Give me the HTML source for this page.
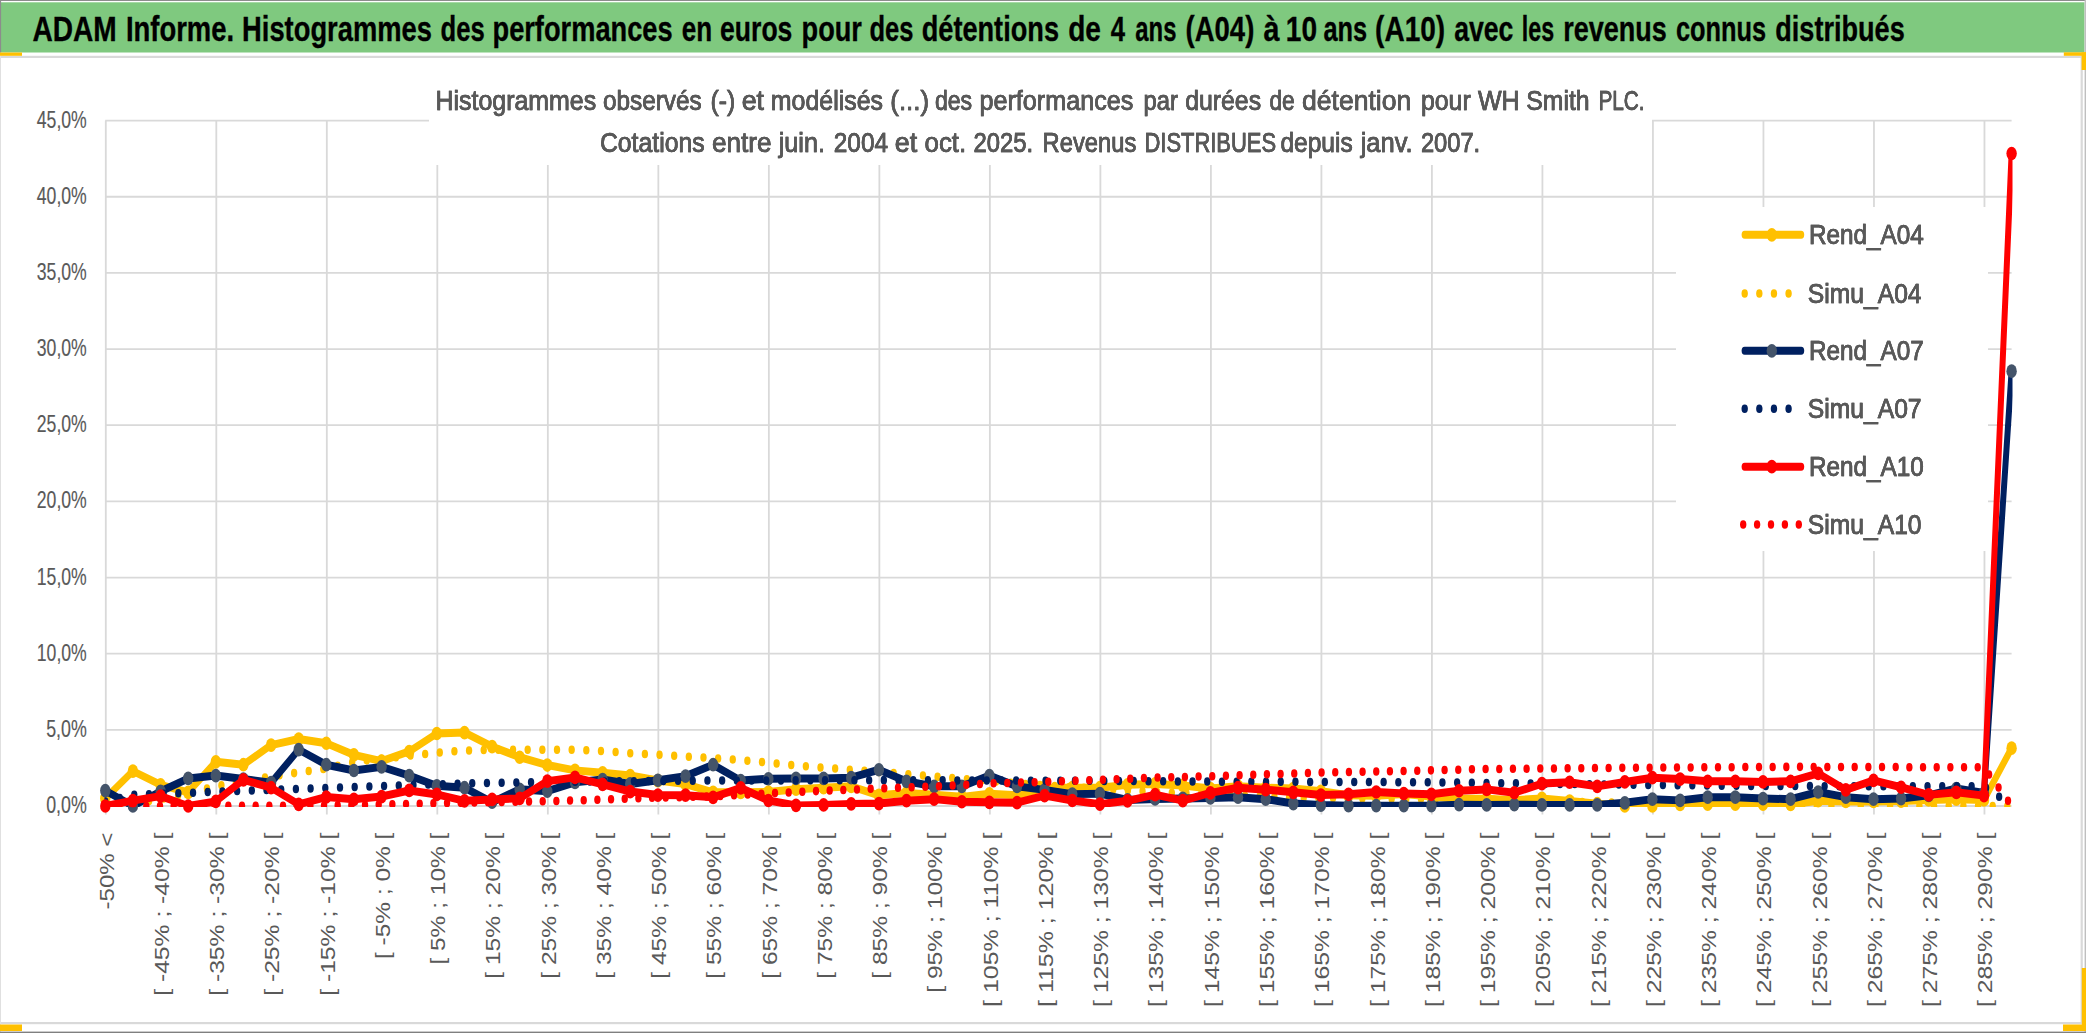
<!DOCTYPE html><html lang="fr"><head><meta charset="utf-8"><title>ADAM Informe</title>
<style>html,body{margin:0;padding:0;background:#fff}body{width:2086px;height:1033px;overflow:hidden}svg{display:block}text{font-family:"Liberation Sans",sans-serif}.g{fill:#595959;stroke:#595959;stroke-width:.6;filter:drop-shadow(.8px 0 0 #595959)}.x{fill:#595959;stroke:#595959;stroke-width:0}.y{fill:#595959;stroke:#595959;stroke-width:.15}</style></head><body>
<svg width="2086" height="1033" viewBox="0 0 2086 1033">
<rect x="0" y="0" width="2086" height="1033" fill="#ffffff"/>
<rect x="0" y="0" width="2086" height="1" fill="#8c8c8c"/>
<rect x="0" y="2.3" width="2084.5" height="50.2" fill="#7fc97f"/>
<rect x="2084.6" y="0" width="1.4" height="1033" fill="#bfbfbf"/>
<rect x="0" y="56" width="1" height="977" fill="#e0e0e0"/>
<rect x="0" y="0" width="1.1" height="52.5" fill="#8c8c8c"/>
<rect x="1" y="55.8" width="2080" height="2.2" fill="#d9d9d9"/>
<rect x="1" y="1022" width="2081" height="2.2" fill="#d9d9d9"/>
<rect x="2080.6" y="55.8" width="2.2" height="968" fill="#d9d9d9"/>
<rect x="0" y="52.5" width="22" height="3.3" fill="#ffc000"/>
<rect x="2063.8" y="52.3" width="22.2" height="3.5" fill="#ffc000"/>
<rect x="2081.6" y="52.3" width="4.4" height="17.7" fill="#ffc000"/>
<rect x="0" y="1024.5" width="22" height="6.5" fill="#ffc000"/>
<rect x="2063" y="1024.5" width="23" height="6.5" fill="#ffc000"/>
<rect x="2081.8" y="968" width="4.2" height="63" fill="#ffc000"/>
<rect x="0" y="1031.6" width="2086" height="1.4" fill="#7f7f7f"/>
<text y="40.7" font-size="34.6" font-weight="bold" fill="#000" stroke="#000" stroke-width=".35"><tspan x="32.4" textLength="84.3" lengthAdjust="spacingAndGlyphs">ADAM</tspan> <tspan x="125.9" textLength="108.2" lengthAdjust="spacingAndGlyphs">Informe.</tspan> <tspan x="242.1" textLength="189.8" lengthAdjust="spacingAndGlyphs">Histogrammes</tspan> <tspan x="440.6" textLength="44.2" lengthAdjust="spacingAndGlyphs">des</tspan> <tspan x="492.5" textLength="180.1" lengthAdjust="spacingAndGlyphs">performances</tspan> <tspan x="681.7" textLength="30.4" lengthAdjust="spacingAndGlyphs">en</tspan> <tspan x="720.1" textLength="72.3" lengthAdjust="spacingAndGlyphs">euros</tspan> <tspan x="801.6" textLength="60.3" lengthAdjust="spacingAndGlyphs">pour</tspan> <tspan x="869.4" textLength="44.0" lengthAdjust="spacingAndGlyphs">des</tspan> <tspan x="921.7" textLength="137.3" lengthAdjust="spacingAndGlyphs">détentions</tspan> <tspan x="1068.2" textLength="32.7" lengthAdjust="spacingAndGlyphs">de</tspan> <tspan x="1110.8" textLength="14.3" lengthAdjust="spacingAndGlyphs">4</tspan> <tspan x="1135.3" textLength="41.1" lengthAdjust="spacingAndGlyphs">ans</tspan> <tspan x="1185.6" textLength="68.7" lengthAdjust="spacingAndGlyphs">(A04)</tspan> <tspan x="1263.5" textLength="16.0" lengthAdjust="spacingAndGlyphs">à</tspan> <tspan x="1285.8" textLength="31.3" lengthAdjust="spacingAndGlyphs">10</tspan> <tspan x="1323.4" textLength="43.7" lengthAdjust="spacingAndGlyphs">ans</tspan> <tspan x="1375.1" textLength="70.0" lengthAdjust="spacingAndGlyphs">(A10)</tspan> <tspan x="1454.2" textLength="59.2" lengthAdjust="spacingAndGlyphs">avec</tspan> <tspan x="1521.8" textLength="32.3" lengthAdjust="spacingAndGlyphs">les</tspan> <tspan x="1563.3" textLength="103.5" lengthAdjust="spacingAndGlyphs">revenus</tspan> <tspan x="1676.0" textLength="90.2" lengthAdjust="spacingAndGlyphs">connus</tspan> <tspan x="1775.3" textLength="129.4" lengthAdjust="spacingAndGlyphs">distribués</tspan></text>
<path d="M105.3,806.00 H2011.6 M105.3,729.84 H2011.6 M105.3,653.69 H2011.6 M105.3,577.53 H2011.6 M105.3,501.38 H2011.6 M105.3,425.22 H2011.6 M105.3,349.07 H2011.6 M105.3,272.91 H2011.6 M105.3,196.76 H2011.6 M105.3,120.60 H2011.6 M105.80,120.6 V814.4 M216.31,120.6 V814.4 M326.82,120.6 V814.4 M437.33,120.6 V814.4 M547.84,120.6 V814.4 M658.35,120.6 V814.4 M768.86,120.6 V814.4 M879.37,120.6 V814.4 M989.88,120.6 V814.4 M1100.39,120.6 V814.4 M1210.90,120.6 V814.4 M1321.41,120.6 V814.4 M1431.92,120.6 V814.4 M1542.43,120.6 V814.4 M1652.94,120.6 V814.4 M1763.45,120.6 V814.4 M1873.96,120.6 V814.4 M1984.47,120.6 V814.4" stroke="#d9d9d9" stroke-width="1.8" fill="none"/>
<rect x="429" y="85" width="1223" height="80" fill="#fff"/>
<rect x="1676" y="207" width="312" height="344" fill="#fff"/>
<text class="y" x="86.8" y="813.0" font-size="24.3" text-anchor="end" textLength="40.6" lengthAdjust="spacingAndGlyphs">0,0%</text>
<text class="y" x="86.8" y="736.8" font-size="24.3" text-anchor="end" textLength="40.6" lengthAdjust="spacingAndGlyphs">5,0%</text>
<text class="y" x="86.8" y="660.7" font-size="24.3" text-anchor="end" textLength="50.0" lengthAdjust="spacingAndGlyphs">10,0%</text>
<text class="y" x="86.8" y="584.5" font-size="24.3" text-anchor="end" textLength="50.0" lengthAdjust="spacingAndGlyphs">15,0%</text>
<text class="y" x="86.8" y="508.4" font-size="24.3" text-anchor="end" textLength="50.0" lengthAdjust="spacingAndGlyphs">20,0%</text>
<text class="y" x="86.8" y="432.2" font-size="24.3" text-anchor="end" textLength="50.0" lengthAdjust="spacingAndGlyphs">25,0%</text>
<text class="y" x="86.8" y="356.1" font-size="24.3" text-anchor="end" textLength="50.0" lengthAdjust="spacingAndGlyphs">30,0%</text>
<text class="y" x="86.8" y="279.9" font-size="24.3" text-anchor="end" textLength="50.0" lengthAdjust="spacingAndGlyphs">35,0%</text>
<text class="y" x="86.8" y="203.8" font-size="24.3" text-anchor="end" textLength="50.0" lengthAdjust="spacingAndGlyphs">40,0%</text>
<text class="y" x="86.8" y="127.6" font-size="24.3" text-anchor="end" textLength="50.0" lengthAdjust="spacingAndGlyphs">45,0%</text>
<text class="g" y="110.3" font-size="28.3"><tspan x="435.5" textLength="160.7" lengthAdjust="spacingAndGlyphs">Histogrammes</tspan> <tspan x="602.9" textLength="98.8" lengthAdjust="spacingAndGlyphs">observés</tspan> <tspan x="710.5" textLength="24.7" lengthAdjust="spacingAndGlyphs">(-)</tspan> <tspan x="741.7" textLength="22.4" lengthAdjust="spacingAndGlyphs">et</tspan> <tspan x="770.8" textLength="112.2" lengthAdjust="spacingAndGlyphs">modélisés</tspan> <tspan x="890.3" textLength="38.7" lengthAdjust="spacingAndGlyphs">(...)</tspan> <tspan x="934.9" textLength="37.2" lengthAdjust="spacingAndGlyphs">des</tspan> <tspan x="979.5" textLength="153.8" lengthAdjust="spacingAndGlyphs">performances</tspan> <tspan x="1143.6" textLength="34.3" lengthAdjust="spacingAndGlyphs">par</tspan> <tspan x="1185.2" textLength="75.9" lengthAdjust="spacingAndGlyphs">durées</tspan> <tspan x="1269.4" textLength="25.3" lengthAdjust="spacingAndGlyphs">de</tspan> <tspan x="1302.0" textLength="109.2" lengthAdjust="spacingAndGlyphs">détention</tspan> <tspan x="1420.9" textLength="49.8" lengthAdjust="spacingAndGlyphs">pour</tspan> <tspan x="1478.0" textLength="41.7" lengthAdjust="spacingAndGlyphs">WH</tspan> <tspan x="1526.2" textLength="63.4" lengthAdjust="spacingAndGlyphs">Smith</tspan> <tspan x="1598.4" textLength="46.2" lengthAdjust="spacingAndGlyphs">PLC.</tspan></text>
<text class="g" y="151.5" font-size="28.3"><tspan x="599.9" textLength="104.7" lengthAdjust="spacingAndGlyphs">Cotations</tspan> <tspan x="712.0" textLength="59.5" lengthAdjust="spacingAndGlyphs">entre</tspan> <tspan x="778.7" textLength="46.3" lengthAdjust="spacingAndGlyphs">juin.</tspan> <tspan x="833.8" textLength="54.2" lengthAdjust="spacingAndGlyphs">2004</tspan> <tspan x="894.8" textLength="22.4" lengthAdjust="spacingAndGlyphs">et</tspan> <tspan x="924.5" textLength="41.7" lengthAdjust="spacingAndGlyphs">oct.</tspan> <tspan x="973.5" textLength="59.6" lengthAdjust="spacingAndGlyphs">2025.</tspan> <tspan x="1042.6" textLength="93.7" lengthAdjust="spacingAndGlyphs">Revenus</tspan> <tspan x="1144.5" textLength="131.5" lengthAdjust="spacingAndGlyphs">DISTRIBUES</tspan> <tspan x="1280.4" textLength="72.3" lengthAdjust="spacingAndGlyphs">depuis</tspan> <tspan x="1360.7" textLength="52.0" lengthAdjust="spacingAndGlyphs">janv.</tspan> <tspan x="1420.9" textLength="59.3" lengthAdjust="spacingAndGlyphs">2007.</tspan></text>
<text class="x" transform="translate(113.6,832.6) rotate(-90)" font-size="20.3" text-anchor="end" textLength="76.9" lengthAdjust="spacingAndGlyphs">-50% <</text>
<text class="x" transform="translate(168.9,832.6) rotate(-90)" font-size="20.3" text-anchor="end" textLength="163.2" lengthAdjust="spacingAndGlyphs">[ -45% ; -40% [</text>
<text class="x" transform="translate(224.1,832.6) rotate(-90)" font-size="20.3" text-anchor="end" textLength="163.2" lengthAdjust="spacingAndGlyphs">[ -35% ; -30% [</text>
<text class="x" transform="translate(279.4,832.6) rotate(-90)" font-size="20.3" text-anchor="end" textLength="163.2" lengthAdjust="spacingAndGlyphs">[ -25% ; -20% [</text>
<text class="x" transform="translate(334.6,832.6) rotate(-90)" font-size="20.3" text-anchor="end" textLength="163.2" lengthAdjust="spacingAndGlyphs">[ -15% ; -10% [</text>
<text class="x" transform="translate(389.9,832.6) rotate(-90)" font-size="20.3" text-anchor="end" textLength="126.4" lengthAdjust="spacingAndGlyphs">[ -5% ; 0% [</text>
<text class="x" transform="translate(445.1,832.6) rotate(-90)" font-size="20.3" text-anchor="end" textLength="132.0" lengthAdjust="spacingAndGlyphs">[ 5% ; 10% [</text>
<text class="x" transform="translate(500.4,832.6) rotate(-90)" font-size="20.3" text-anchor="end" textLength="146.1" lengthAdjust="spacingAndGlyphs">[ 15% ; 20% [</text>
<text class="x" transform="translate(555.6,832.6) rotate(-90)" font-size="20.3" text-anchor="end" textLength="146.1" lengthAdjust="spacingAndGlyphs">[ 25% ; 30% [</text>
<text class="x" transform="translate(610.9,832.6) rotate(-90)" font-size="20.3" text-anchor="end" textLength="146.1" lengthAdjust="spacingAndGlyphs">[ 35% ; 40% [</text>
<text class="x" transform="translate(666.2,832.6) rotate(-90)" font-size="20.3" text-anchor="end" textLength="146.1" lengthAdjust="spacingAndGlyphs">[ 45% ; 50% [</text>
<text class="x" transform="translate(721.4,832.6) rotate(-90)" font-size="20.3" text-anchor="end" textLength="146.1" lengthAdjust="spacingAndGlyphs">[ 55% ; 60% [</text>
<text class="x" transform="translate(776.7,832.6) rotate(-90)" font-size="20.3" text-anchor="end" textLength="146.1" lengthAdjust="spacingAndGlyphs">[ 65% ; 70% [</text>
<text class="x" transform="translate(831.9,832.6) rotate(-90)" font-size="20.3" text-anchor="end" textLength="146.1" lengthAdjust="spacingAndGlyphs">[ 75% ; 80% [</text>
<text class="x" transform="translate(887.2,832.6) rotate(-90)" font-size="20.3" text-anchor="end" textLength="146.1" lengthAdjust="spacingAndGlyphs">[ 85% ; 90% [</text>
<text class="x" transform="translate(942.4,832.6) rotate(-90)" font-size="20.3" text-anchor="end" textLength="160.2" lengthAdjust="spacingAndGlyphs">[ 95% ; 100% [</text>
<text class="x" transform="translate(997.7,832.6) rotate(-90)" font-size="20.3" text-anchor="end" textLength="174.4" lengthAdjust="spacingAndGlyphs">[ 105% ; 110% [</text>
<text class="x" transform="translate(1052.9,832.6) rotate(-90)" font-size="20.3" text-anchor="end" textLength="174.4" lengthAdjust="spacingAndGlyphs">[ 115% ; 120% [</text>
<text class="x" transform="translate(1108.2,832.6) rotate(-90)" font-size="20.3" text-anchor="end" textLength="174.4" lengthAdjust="spacingAndGlyphs">[ 125% ; 130% [</text>
<text class="x" transform="translate(1163.4,832.6) rotate(-90)" font-size="20.3" text-anchor="end" textLength="174.4" lengthAdjust="spacingAndGlyphs">[ 135% ; 140% [</text>
<text class="x" transform="translate(1218.7,832.6) rotate(-90)" font-size="20.3" text-anchor="end" textLength="174.4" lengthAdjust="spacingAndGlyphs">[ 145% ; 150% [</text>
<text class="x" transform="translate(1274.0,832.6) rotate(-90)" font-size="20.3" text-anchor="end" textLength="174.4" lengthAdjust="spacingAndGlyphs">[ 155% ; 160% [</text>
<text class="x" transform="translate(1329.2,832.6) rotate(-90)" font-size="20.3" text-anchor="end" textLength="174.4" lengthAdjust="spacingAndGlyphs">[ 165% ; 170% [</text>
<text class="x" transform="translate(1384.5,832.6) rotate(-90)" font-size="20.3" text-anchor="end" textLength="174.4" lengthAdjust="spacingAndGlyphs">[ 175% ; 180% [</text>
<text class="x" transform="translate(1439.7,832.6) rotate(-90)" font-size="20.3" text-anchor="end" textLength="174.4" lengthAdjust="spacingAndGlyphs">[ 185% ; 190% [</text>
<text class="x" transform="translate(1495.0,832.6) rotate(-90)" font-size="20.3" text-anchor="end" textLength="174.4" lengthAdjust="spacingAndGlyphs">[ 195% ; 200% [</text>
<text class="x" transform="translate(1550.2,832.6) rotate(-90)" font-size="20.3" text-anchor="end" textLength="174.4" lengthAdjust="spacingAndGlyphs">[ 205% ; 210% [</text>
<text class="x" transform="translate(1605.5,832.6) rotate(-90)" font-size="20.3" text-anchor="end" textLength="174.4" lengthAdjust="spacingAndGlyphs">[ 215% ; 220% [</text>
<text class="x" transform="translate(1660.7,832.6) rotate(-90)" font-size="20.3" text-anchor="end" textLength="174.4" lengthAdjust="spacingAndGlyphs">[ 225% ; 230% [</text>
<text class="x" transform="translate(1716.0,832.6) rotate(-90)" font-size="20.3" text-anchor="end" textLength="174.4" lengthAdjust="spacingAndGlyphs">[ 235% ; 240% [</text>
<text class="x" transform="translate(1771.3,832.6) rotate(-90)" font-size="20.3" text-anchor="end" textLength="174.4" lengthAdjust="spacingAndGlyphs">[ 245% ; 250% [</text>
<text class="x" transform="translate(1826.5,832.6) rotate(-90)" font-size="20.3" text-anchor="end" textLength="174.4" lengthAdjust="spacingAndGlyphs">[ 255% ; 260% [</text>
<text class="x" transform="translate(1881.8,832.6) rotate(-90)" font-size="20.3" text-anchor="end" textLength="174.4" lengthAdjust="spacingAndGlyphs">[ 265% ; 270% [</text>
<text class="x" transform="translate(1937.0,832.6) rotate(-90)" font-size="20.3" text-anchor="end" textLength="174.4" lengthAdjust="spacingAndGlyphs">[ 275% ; 280% [</text>
<text class="x" transform="translate(1992.3,832.6) rotate(-90)" font-size="20.3" text-anchor="end" textLength="174.4" lengthAdjust="spacingAndGlyphs">[ 285% ; 290% [</text>
<clipPath id="pc"><rect x="104.4" y="90.00" width="1908.1" height="516.69"/></clipPath>
<g transform="scale(1,1.330)" fill="none" stroke-linejoin="round" stroke-linecap="round">
<path clip-path="url(#pc)" d="M105.3,600.29 L132.9,579.79 L160.6,590.10 L188.2,595.71 L215.8,572.80 L243.4,574.98 L271.1,560.21 L298.7,555.63 L326.3,558.83 L353.9,567.54 L381.6,572.23 L409.2,565.02 L436.8,551.50 L464.5,550.82 L492.1,561.35 L519.7,569.37 L547.3,575.21 L575.0,579.22 L602.6,581.05 L630.2,583.11 L657.9,586.89 L685.5,589.52 L713.1,595.71 L740.7,595.71 L768.4,595.48 L796.0,593.42 L823.6,592.27 L851.2,591.24 L878.9,598.00 L906.5,596.17 L934.1,597.54 L961.8,599.14 L989.4,596.85 L1017.0,598.00 L1044.6,592.27 L1072.3,592.27 L1099.9,592.27 L1127.5,590.10 L1155.1,589.41 L1182.8,590.55 L1210.4,592.85 L1238.0,591.13 L1265.7,592.27 L1293.3,592.85 L1320.9,594.91 L1348.5,598.00 L1376.2,598.23 L1403.8,597.08 L1431.4,598.91 L1459.0,600.52 L1486.7,600.52 L1514.3,601.66 L1541.9,600.29 L1569.6,602.24 L1597.2,604.30 L1624.8,606.02 L1652.4,606.02 L1680.1,604.87 L1707.7,604.64 L1735.3,604.64 L1763.0,604.64 L1790.6,604.87 L1818.2,602.01 L1845.8,602.58 L1873.5,602.58 L1901.1,602.35 L1928.7,601.43 L1956.3,600.86 L1984.0,601.43 L2011.6,562.50" stroke="#ffc000" stroke-width="6.0"/>
<ellipse cx="105.3" cy="600.29" rx="5.20" ry="5.15" fill="#ffc000"/><ellipse cx="132.9" cy="579.79" rx="5.20" ry="5.15" fill="#ffc000"/><ellipse cx="160.6" cy="590.10" rx="5.20" ry="5.15" fill="#ffc000"/><ellipse cx="188.2" cy="595.71" rx="5.20" ry="5.15" fill="#ffc000"/><ellipse cx="215.8" cy="572.80" rx="5.20" ry="5.15" fill="#ffc000"/><ellipse cx="243.4" cy="574.98" rx="5.20" ry="5.15" fill="#ffc000"/><ellipse cx="271.1" cy="560.21" rx="5.20" ry="5.15" fill="#ffc000"/><ellipse cx="298.7" cy="555.63" rx="5.20" ry="5.15" fill="#ffc000"/><ellipse cx="326.3" cy="558.83" rx="5.20" ry="5.15" fill="#ffc000"/><ellipse cx="353.9" cy="567.54" rx="5.20" ry="5.15" fill="#ffc000"/><ellipse cx="381.6" cy="572.23" rx="5.20" ry="5.15" fill="#ffc000"/><ellipse cx="409.2" cy="565.02" rx="5.20" ry="5.15" fill="#ffc000"/><ellipse cx="436.8" cy="551.50" rx="5.20" ry="5.15" fill="#ffc000"/><ellipse cx="464.5" cy="550.82" rx="5.20" ry="5.15" fill="#ffc000"/><ellipse cx="492.1" cy="561.35" rx="5.20" ry="5.15" fill="#ffc000"/><ellipse cx="519.7" cy="569.37" rx="5.20" ry="5.15" fill="#ffc000"/><ellipse cx="547.3" cy="575.21" rx="5.20" ry="5.15" fill="#ffc000"/><ellipse cx="575.0" cy="579.22" rx="5.20" ry="5.15" fill="#ffc000"/><ellipse cx="602.6" cy="581.05" rx="5.20" ry="5.15" fill="#ffc000"/><ellipse cx="630.2" cy="583.11" rx="5.20" ry="5.15" fill="#ffc000"/><ellipse cx="657.9" cy="586.89" rx="5.20" ry="5.15" fill="#ffc000"/><ellipse cx="685.5" cy="589.52" rx="5.20" ry="5.15" fill="#ffc000"/><ellipse cx="713.1" cy="595.71" rx="5.20" ry="5.15" fill="#ffc000"/><ellipse cx="740.7" cy="595.71" rx="5.20" ry="5.15" fill="#ffc000"/><ellipse cx="768.4" cy="595.48" rx="5.20" ry="5.15" fill="#ffc000"/><ellipse cx="796.0" cy="593.42" rx="5.20" ry="5.15" fill="#ffc000"/><ellipse cx="823.6" cy="592.27" rx="5.20" ry="5.15" fill="#ffc000"/><ellipse cx="851.2" cy="591.24" rx="5.20" ry="5.15" fill="#ffc000"/><ellipse cx="878.9" cy="598.00" rx="5.20" ry="5.15" fill="#ffc000"/><ellipse cx="906.5" cy="596.17" rx="5.20" ry="5.15" fill="#ffc000"/><ellipse cx="934.1" cy="597.54" rx="5.20" ry="5.15" fill="#ffc000"/><ellipse cx="961.8" cy="599.14" rx="5.20" ry="5.15" fill="#ffc000"/><ellipse cx="989.4" cy="596.85" rx="5.20" ry="5.15" fill="#ffc000"/><ellipse cx="1017.0" cy="598.00" rx="5.20" ry="5.15" fill="#ffc000"/><ellipse cx="1044.6" cy="592.27" rx="5.20" ry="5.15" fill="#ffc000"/><ellipse cx="1072.3" cy="592.27" rx="5.20" ry="5.15" fill="#ffc000"/><ellipse cx="1099.9" cy="592.27" rx="5.20" ry="5.15" fill="#ffc000"/><ellipse cx="1127.5" cy="590.10" rx="5.20" ry="5.15" fill="#ffc000"/><ellipse cx="1155.1" cy="589.41" rx="5.20" ry="5.15" fill="#ffc000"/><ellipse cx="1182.8" cy="590.55" rx="5.20" ry="5.15" fill="#ffc000"/><ellipse cx="1210.4" cy="592.85" rx="5.20" ry="5.15" fill="#ffc000"/><ellipse cx="1238.0" cy="591.13" rx="5.20" ry="5.15" fill="#ffc000"/><ellipse cx="1265.7" cy="592.27" rx="5.20" ry="5.15" fill="#ffc000"/><ellipse cx="1293.3" cy="592.85" rx="5.20" ry="5.15" fill="#ffc000"/><ellipse cx="1320.9" cy="594.91" rx="5.20" ry="5.15" fill="#ffc000"/><ellipse cx="1348.5" cy="598.00" rx="5.20" ry="5.15" fill="#ffc000"/><ellipse cx="1376.2" cy="598.23" rx="5.20" ry="5.15" fill="#ffc000"/><ellipse cx="1403.8" cy="597.08" rx="5.20" ry="5.15" fill="#ffc000"/><ellipse cx="1431.4" cy="598.91" rx="5.20" ry="5.15" fill="#ffc000"/><ellipse cx="1459.0" cy="600.52" rx="5.20" ry="5.15" fill="#ffc000"/><ellipse cx="1486.7" cy="600.52" rx="5.20" ry="5.15" fill="#ffc000"/><ellipse cx="1514.3" cy="601.66" rx="5.20" ry="5.15" fill="#ffc000"/><ellipse cx="1541.9" cy="600.29" rx="5.20" ry="5.15" fill="#ffc000"/><ellipse cx="1569.6" cy="602.24" rx="5.20" ry="5.15" fill="#ffc000"/><ellipse cx="1597.2" cy="604.30" rx="5.20" ry="5.15" fill="#ffc000"/><ellipse cx="1624.8" cy="606.02" rx="5.20" ry="5.15" fill="#ffc000"/><ellipse cx="1652.4" cy="606.02" rx="5.20" ry="5.15" fill="#ffc000"/><ellipse cx="1680.1" cy="604.87" rx="5.20" ry="5.15" fill="#ffc000"/><ellipse cx="1707.7" cy="604.64" rx="5.20" ry="5.15" fill="#ffc000"/><ellipse cx="1735.3" cy="604.64" rx="5.20" ry="5.15" fill="#ffc000"/><ellipse cx="1763.0" cy="604.64" rx="5.20" ry="5.15" fill="#ffc000"/><ellipse cx="1790.6" cy="604.87" rx="5.20" ry="5.15" fill="#ffc000"/><ellipse cx="1818.2" cy="602.01" rx="5.20" ry="5.15" fill="#ffc000"/><ellipse cx="1845.8" cy="602.58" rx="5.20" ry="5.15" fill="#ffc000"/><ellipse cx="1873.5" cy="602.58" rx="5.20" ry="5.15" fill="#ffc000"/><ellipse cx="1901.1" cy="602.35" rx="5.20" ry="5.15" fill="#ffc000"/><ellipse cx="1928.7" cy="601.43" rx="5.20" ry="5.15" fill="#ffc000"/><ellipse cx="1956.3" cy="600.86" rx="5.20" ry="5.15" fill="#ffc000"/><ellipse cx="1984.0" cy="601.43" rx="5.20" ry="5.15" fill="#ffc000"/><ellipse cx="2011.6" cy="562.50" rx="5.20" ry="5.15" fill="#ffc000"/>
<path clip-path="url(#pc)" d="M105.3,606.02 L132.9,604.30 L160.6,600.86 L188.2,596.62 L215.8,591.13 L243.4,587.69 L271.1,583.68 L298.7,580.82 L326.3,577.96 L353.9,572.80 L381.6,570.51 L409.2,568.22 L436.8,565.93 L464.5,564.33 L492.1,563.64 L519.7,563.64 L547.3,563.64 L575.0,563.64 L602.6,564.79 L630.2,566.28 L657.9,567.42 L685.5,568.76 L713.1,570.09 L740.7,571.43 L768.4,573.49 L796.0,575.55 L823.6,577.16 L851.2,578.76 L878.9,580.36 L906.5,581.97 L934.1,583.91 L961.8,585.57 L989.4,587.23 L1017.0,588.89 L1044.6,590.55 L1072.3,591.79 L1099.9,593.02 L1127.5,594.25 L1155.1,595.48 L1182.8,596.33 L1210.4,597.17 L1238.0,598.02 L1265.7,598.87 L1293.3,599.72 L1320.9,599.95 L1348.5,600.17 L1376.2,600.40 L1403.8,600.63 L1431.4,600.86 L1459.0,601.15 L1486.7,601.43 L1514.3,601.89 L1541.9,602.35 L1569.6,602.81 L1597.2,603.27 L1624.8,603.67 L1652.4,604.07 L1680.1,604.35 L1707.7,604.64 L1735.3,605.04 L1763.0,605.44 L1790.6,605.51 L1818.2,605.57 L1845.8,605.63 L1873.5,605.70 L1901.1,605.76 L1928.7,605.82 L1956.3,605.89 L1984.0,605.95 L2011.6,606.02" stroke="#ffc000" stroke-width="6.4" stroke-dasharray="0 14.66"/>
<path clip-path="url(#pc)" d="M105.3,594.45 L132.9,606.02 L160.6,595.02 L188.2,585.29 L215.8,583.11 L243.4,585.75 L271.1,588.49 L298.7,563.64 L326.3,574.98 L353.9,579.33 L381.6,576.58 L409.2,583.23 L436.8,590.78 L464.5,592.27 L492.1,603.15 L519.7,593.42 L547.3,594.91 L575.0,588.26 L602.6,586.09 L630.2,589.41 L657.9,586.66 L685.5,583.57 L713.1,574.98 L740.7,586.89 L768.4,585.52 L796.0,585.29 L823.6,585.29 L851.2,584.71 L878.9,578.76 L906.5,587.46 L934.1,591.24 L961.8,591.24 L989.4,583.11 L1017.0,591.24 L1044.6,593.88 L1072.3,597.08 L1099.9,596.74 L1127.5,601.43 L1155.1,600.75 L1182.8,600.29 L1210.4,599.95 L1238.0,599.37 L1265.7,600.86 L1293.3,604.18 L1320.9,605.33 L1348.5,605.79 L1376.2,605.79 L1403.8,605.79 L1431.4,605.79 L1459.0,604.98 L1486.7,605.21 L1514.3,604.98 L1541.9,605.21 L1569.6,605.21 L1597.2,605.21 L1624.8,603.61 L1652.4,600.86 L1680.1,601.78 L1707.7,599.37 L1735.3,599.37 L1763.0,600.40 L1790.6,600.86 L1818.2,595.48 L1845.8,599.37 L1873.5,600.86 L1901.1,600.40 L1928.7,598.00 L1956.3,592.85 L1984.0,596.28 L2011.6,279.06" stroke="#002060" stroke-width="6.0"/>
<ellipse cx="105.3" cy="594.45" rx="5.20" ry="5.15" fill="#44546a"/><ellipse cx="132.9" cy="606.02" rx="5.20" ry="5.15" fill="#44546a"/><ellipse cx="160.6" cy="595.02" rx="5.20" ry="5.15" fill="#44546a"/><ellipse cx="188.2" cy="585.29" rx="5.20" ry="5.15" fill="#44546a"/><ellipse cx="215.8" cy="583.11" rx="5.20" ry="5.15" fill="#44546a"/><ellipse cx="243.4" cy="585.75" rx="5.20" ry="5.15" fill="#44546a"/><ellipse cx="271.1" cy="588.49" rx="5.20" ry="5.15" fill="#44546a"/><ellipse cx="298.7" cy="563.64" rx="5.20" ry="5.15" fill="#44546a"/><ellipse cx="326.3" cy="574.98" rx="5.20" ry="5.15" fill="#44546a"/><ellipse cx="353.9" cy="579.33" rx="5.20" ry="5.15" fill="#44546a"/><ellipse cx="381.6" cy="576.58" rx="5.20" ry="5.15" fill="#44546a"/><ellipse cx="409.2" cy="583.23" rx="5.20" ry="5.15" fill="#44546a"/><ellipse cx="436.8" cy="590.78" rx="5.20" ry="5.15" fill="#44546a"/><ellipse cx="464.5" cy="592.27" rx="5.20" ry="5.15" fill="#44546a"/><ellipse cx="492.1" cy="603.15" rx="5.20" ry="5.15" fill="#44546a"/><ellipse cx="519.7" cy="593.42" rx="5.20" ry="5.15" fill="#44546a"/><ellipse cx="547.3" cy="594.91" rx="5.20" ry="5.15" fill="#44546a"/><ellipse cx="575.0" cy="588.26" rx="5.20" ry="5.15" fill="#44546a"/><ellipse cx="602.6" cy="586.09" rx="5.20" ry="5.15" fill="#44546a"/><ellipse cx="630.2" cy="589.41" rx="5.20" ry="5.15" fill="#44546a"/><ellipse cx="657.9" cy="586.66" rx="5.20" ry="5.15" fill="#44546a"/><ellipse cx="685.5" cy="583.57" rx="5.20" ry="5.15" fill="#44546a"/><ellipse cx="713.1" cy="574.98" rx="5.20" ry="5.15" fill="#44546a"/><ellipse cx="740.7" cy="586.89" rx="5.20" ry="5.15" fill="#44546a"/><ellipse cx="768.4" cy="585.52" rx="5.20" ry="5.15" fill="#44546a"/><ellipse cx="796.0" cy="585.29" rx="5.20" ry="5.15" fill="#44546a"/><ellipse cx="823.6" cy="585.29" rx="5.20" ry="5.15" fill="#44546a"/><ellipse cx="851.2" cy="584.71" rx="5.20" ry="5.15" fill="#44546a"/><ellipse cx="878.9" cy="578.76" rx="5.20" ry="5.15" fill="#44546a"/><ellipse cx="906.5" cy="587.46" rx="5.20" ry="5.15" fill="#44546a"/><ellipse cx="934.1" cy="591.24" rx="5.20" ry="5.15" fill="#44546a"/><ellipse cx="961.8" cy="591.24" rx="5.20" ry="5.15" fill="#44546a"/><ellipse cx="989.4" cy="583.11" rx="5.20" ry="5.15" fill="#44546a"/><ellipse cx="1017.0" cy="591.24" rx="5.20" ry="5.15" fill="#44546a"/><ellipse cx="1044.6" cy="593.88" rx="5.20" ry="5.15" fill="#44546a"/><ellipse cx="1072.3" cy="597.08" rx="5.20" ry="5.15" fill="#44546a"/><ellipse cx="1099.9" cy="596.74" rx="5.20" ry="5.15" fill="#44546a"/><ellipse cx="1127.5" cy="601.43" rx="5.20" ry="5.15" fill="#44546a"/><ellipse cx="1155.1" cy="600.75" rx="5.20" ry="5.15" fill="#44546a"/><ellipse cx="1182.8" cy="600.29" rx="5.20" ry="5.15" fill="#44546a"/><ellipse cx="1210.4" cy="599.95" rx="5.20" ry="5.15" fill="#44546a"/><ellipse cx="1238.0" cy="599.37" rx="5.20" ry="5.15" fill="#44546a"/><ellipse cx="1265.7" cy="600.86" rx="5.20" ry="5.15" fill="#44546a"/><ellipse cx="1293.3" cy="604.18" rx="5.20" ry="5.15" fill="#44546a"/><ellipse cx="1320.9" cy="605.33" rx="5.20" ry="5.15" fill="#44546a"/><ellipse cx="1348.5" cy="605.79" rx="5.20" ry="5.15" fill="#44546a"/><ellipse cx="1376.2" cy="605.79" rx="5.20" ry="5.15" fill="#44546a"/><ellipse cx="1403.8" cy="605.79" rx="5.20" ry="5.15" fill="#44546a"/><ellipse cx="1431.4" cy="605.79" rx="5.20" ry="5.15" fill="#44546a"/><ellipse cx="1459.0" cy="604.98" rx="5.20" ry="5.15" fill="#44546a"/><ellipse cx="1486.7" cy="605.21" rx="5.20" ry="5.15" fill="#44546a"/><ellipse cx="1514.3" cy="604.98" rx="5.20" ry="5.15" fill="#44546a"/><ellipse cx="1541.9" cy="605.21" rx="5.20" ry="5.15" fill="#44546a"/><ellipse cx="1569.6" cy="605.21" rx="5.20" ry="5.15" fill="#44546a"/><ellipse cx="1597.2" cy="605.21" rx="5.20" ry="5.15" fill="#44546a"/><ellipse cx="1624.8" cy="603.61" rx="5.20" ry="5.15" fill="#44546a"/><ellipse cx="1652.4" cy="600.86" rx="5.20" ry="5.15" fill="#44546a"/><ellipse cx="1680.1" cy="601.78" rx="5.20" ry="5.15" fill="#44546a"/><ellipse cx="1707.7" cy="599.37" rx="5.20" ry="5.15" fill="#44546a"/><ellipse cx="1735.3" cy="599.37" rx="5.20" ry="5.15" fill="#44546a"/><ellipse cx="1763.0" cy="600.40" rx="5.20" ry="5.15" fill="#44546a"/><ellipse cx="1790.6" cy="600.86" rx="5.20" ry="5.15" fill="#44546a"/><ellipse cx="1818.2" cy="595.48" rx="5.20" ry="5.15" fill="#44546a"/><ellipse cx="1845.8" cy="599.37" rx="5.20" ry="5.15" fill="#44546a"/><ellipse cx="1873.5" cy="600.86" rx="5.20" ry="5.15" fill="#44546a"/><ellipse cx="1901.1" cy="600.40" rx="5.20" ry="5.15" fill="#44546a"/><ellipse cx="1928.7" cy="598.00" rx="5.20" ry="5.15" fill="#44546a"/><ellipse cx="1956.3" cy="592.85" rx="5.20" ry="5.15" fill="#44546a"/><ellipse cx="1984.0" cy="596.28" rx="5.20" ry="5.15" fill="#44546a"/><ellipse cx="2011.6" cy="279.06" rx="5.20" ry="5.15" fill="#44546a"/>
<path clip-path="url(#pc)" d="M105.3,602.58 L132.9,597.66 L160.6,596.88 L188.2,596.11 L215.8,595.34 L243.4,594.56 L271.1,593.85 L298.7,593.14 L326.3,592.43 L353.9,591.72 L381.6,591.01 L409.2,590.36 L436.8,589.72 L464.5,589.07 L492.1,588.68 L519.7,588.30 L547.3,587.92 L575.0,587.75 L602.6,587.58 L630.2,587.41 L657.9,587.23 L685.5,587.06 L713.1,586.89 L740.7,586.83 L768.4,586.78 L796.0,586.72 L823.6,586.66 L851.2,586.60 L878.9,586.55 L906.5,586.62 L934.1,586.70 L961.8,586.78 L989.4,586.84 L1017.0,586.91 L1044.6,586.98 L1072.3,587.05 L1099.9,587.12 L1127.5,587.26 L1155.1,587.41 L1182.8,587.55 L1210.4,587.69 L1238.0,587.75 L1265.7,587.81 L1293.3,587.86 L1320.9,587.92 L1348.5,587.98 L1376.2,588.04 L1403.8,588.09 L1431.4,588.15 L1459.0,588.42 L1486.7,588.68 L1514.3,588.95 L1541.9,589.22 L1569.6,589.49 L1597.2,589.75 L1624.8,589.96 L1652.4,590.17 L1680.1,590.38 L1707.7,590.59 L1735.3,590.80 L1763.0,591.01 L1790.6,591.04 L1818.2,591.07 L1845.8,591.10 L1873.5,591.13 L1901.1,591.16 L1928.7,591.18 L1956.3,591.21 L1984.0,591.24 L2011.6,605.44" stroke="#002060" stroke-width="6.4" stroke-dasharray="0 14.7"/>
<path clip-path="url(#pc)" d="M105.3,606.02 L132.9,602.01 L160.6,598.57 L188.2,606.02 L215.8,602.58 L243.4,586.32 L271.1,592.27 L298.7,604.76 L326.3,599.26 L353.9,600.98 L381.6,598.91 L409.2,594.33 L436.8,597.31 L464.5,602.12 L492.1,601.09 L519.7,600.29 L547.3,587.35 L575.0,584.49 L602.6,589.75 L630.2,595.14 L657.9,597.77 L685.5,597.88 L713.1,599.49 L740.7,592.39 L768.4,601.89 L796.0,605.56 L823.6,605.21 L851.2,604.41 L878.9,604.18 L906.5,602.01 L934.1,600.86 L961.8,602.81 L989.4,603.27 L1017.0,603.50 L1044.6,598.23 L1072.3,601.89 L1099.9,604.64 L1127.5,602.12 L1155.1,597.43 L1182.8,602.01 L1210.4,596.17 L1238.0,592.27 L1265.7,593.76 L1293.3,595.71 L1320.9,597.77 L1348.5,597.20 L1376.2,595.48 L1403.8,596.62 L1431.4,597.20 L1459.0,594.56 L1486.7,593.53 L1514.3,596.05 L1541.9,589.18 L1569.6,588.15 L1597.2,591.24 L1624.8,587.92 L1652.4,584.71 L1680.1,585.75 L1707.7,587.46 L1735.3,587.46 L1763.0,587.92 L1790.6,587.46 L1818.2,581.51 L1845.8,593.88 L1873.5,586.78 L1901.1,591.93 L1928.7,597.66 L1956.3,595.71 L1984.0,598.23 L2011.6,115.41" stroke="#ff0000" stroke-width="6.0"/>
<ellipse cx="105.3" cy="606.02" rx="5.20" ry="5.15" fill="#ff0000"/><ellipse cx="132.9" cy="602.01" rx="5.20" ry="5.15" fill="#ff0000"/><ellipse cx="160.6" cy="598.57" rx="5.20" ry="5.15" fill="#ff0000"/><ellipse cx="188.2" cy="606.02" rx="5.20" ry="5.15" fill="#ff0000"/><ellipse cx="215.8" cy="602.58" rx="5.20" ry="5.15" fill="#ff0000"/><ellipse cx="243.4" cy="586.32" rx="5.20" ry="5.15" fill="#ff0000"/><ellipse cx="271.1" cy="592.27" rx="5.20" ry="5.15" fill="#ff0000"/><ellipse cx="298.7" cy="604.76" rx="5.20" ry="5.15" fill="#ff0000"/><ellipse cx="326.3" cy="599.26" rx="5.20" ry="5.15" fill="#ff0000"/><ellipse cx="353.9" cy="600.98" rx="5.20" ry="5.15" fill="#ff0000"/><ellipse cx="381.6" cy="598.91" rx="5.20" ry="5.15" fill="#ff0000"/><ellipse cx="409.2" cy="594.33" rx="5.20" ry="5.15" fill="#ff0000"/><ellipse cx="436.8" cy="597.31" rx="5.20" ry="5.15" fill="#ff0000"/><ellipse cx="464.5" cy="602.12" rx="5.20" ry="5.15" fill="#ff0000"/><ellipse cx="492.1" cy="601.09" rx="5.20" ry="5.15" fill="#ff0000"/><ellipse cx="519.7" cy="600.29" rx="5.20" ry="5.15" fill="#ff0000"/><ellipse cx="547.3" cy="587.35" rx="5.20" ry="5.15" fill="#ff0000"/><ellipse cx="575.0" cy="584.49" rx="5.20" ry="5.15" fill="#ff0000"/><ellipse cx="602.6" cy="589.75" rx="5.20" ry="5.15" fill="#ff0000"/><ellipse cx="630.2" cy="595.14" rx="5.20" ry="5.15" fill="#ff0000"/><ellipse cx="657.9" cy="597.77" rx="5.20" ry="5.15" fill="#ff0000"/><ellipse cx="685.5" cy="597.88" rx="5.20" ry="5.15" fill="#ff0000"/><ellipse cx="713.1" cy="599.49" rx="5.20" ry="5.15" fill="#ff0000"/><ellipse cx="740.7" cy="592.39" rx="5.20" ry="5.15" fill="#ff0000"/><ellipse cx="768.4" cy="601.89" rx="5.20" ry="5.15" fill="#ff0000"/><ellipse cx="796.0" cy="605.56" rx="5.20" ry="5.15" fill="#ff0000"/><ellipse cx="823.6" cy="605.21" rx="5.20" ry="5.15" fill="#ff0000"/><ellipse cx="851.2" cy="604.41" rx="5.20" ry="5.15" fill="#ff0000"/><ellipse cx="878.9" cy="604.18" rx="5.20" ry="5.15" fill="#ff0000"/><ellipse cx="906.5" cy="602.01" rx="5.20" ry="5.15" fill="#ff0000"/><ellipse cx="934.1" cy="600.86" rx="5.20" ry="5.15" fill="#ff0000"/><ellipse cx="961.8" cy="602.81" rx="5.20" ry="5.15" fill="#ff0000"/><ellipse cx="989.4" cy="603.27" rx="5.20" ry="5.15" fill="#ff0000"/><ellipse cx="1017.0" cy="603.50" rx="5.20" ry="5.15" fill="#ff0000"/><ellipse cx="1044.6" cy="598.23" rx="5.20" ry="5.15" fill="#ff0000"/><ellipse cx="1072.3" cy="601.89" rx="5.20" ry="5.15" fill="#ff0000"/><ellipse cx="1099.9" cy="604.64" rx="5.20" ry="5.15" fill="#ff0000"/><ellipse cx="1127.5" cy="602.12" rx="5.20" ry="5.15" fill="#ff0000"/><ellipse cx="1155.1" cy="597.43" rx="5.20" ry="5.15" fill="#ff0000"/><ellipse cx="1182.8" cy="602.01" rx="5.20" ry="5.15" fill="#ff0000"/><ellipse cx="1210.4" cy="596.17" rx="5.20" ry="5.15" fill="#ff0000"/><ellipse cx="1238.0" cy="592.27" rx="5.20" ry="5.15" fill="#ff0000"/><ellipse cx="1265.7" cy="593.76" rx="5.20" ry="5.15" fill="#ff0000"/><ellipse cx="1293.3" cy="595.71" rx="5.20" ry="5.15" fill="#ff0000"/><ellipse cx="1320.9" cy="597.77" rx="5.20" ry="5.15" fill="#ff0000"/><ellipse cx="1348.5" cy="597.20" rx="5.20" ry="5.15" fill="#ff0000"/><ellipse cx="1376.2" cy="595.48" rx="5.20" ry="5.15" fill="#ff0000"/><ellipse cx="1403.8" cy="596.62" rx="5.20" ry="5.15" fill="#ff0000"/><ellipse cx="1431.4" cy="597.20" rx="5.20" ry="5.15" fill="#ff0000"/><ellipse cx="1459.0" cy="594.56" rx="5.20" ry="5.15" fill="#ff0000"/><ellipse cx="1486.7" cy="593.53" rx="5.20" ry="5.15" fill="#ff0000"/><ellipse cx="1514.3" cy="596.05" rx="5.20" ry="5.15" fill="#ff0000"/><ellipse cx="1541.9" cy="589.18" rx="5.20" ry="5.15" fill="#ff0000"/><ellipse cx="1569.6" cy="588.15" rx="5.20" ry="5.15" fill="#ff0000"/><ellipse cx="1597.2" cy="591.24" rx="5.20" ry="5.15" fill="#ff0000"/><ellipse cx="1624.8" cy="587.92" rx="5.20" ry="5.15" fill="#ff0000"/><ellipse cx="1652.4" cy="584.71" rx="5.20" ry="5.15" fill="#ff0000"/><ellipse cx="1680.1" cy="585.75" rx="5.20" ry="5.15" fill="#ff0000"/><ellipse cx="1707.7" cy="587.46" rx="5.20" ry="5.15" fill="#ff0000"/><ellipse cx="1735.3" cy="587.46" rx="5.20" ry="5.15" fill="#ff0000"/><ellipse cx="1763.0" cy="587.92" rx="5.20" ry="5.15" fill="#ff0000"/><ellipse cx="1790.6" cy="587.46" rx="5.20" ry="5.15" fill="#ff0000"/><ellipse cx="1818.2" cy="581.51" rx="5.20" ry="5.15" fill="#ff0000"/><ellipse cx="1845.8" cy="593.88" rx="5.20" ry="5.15" fill="#ff0000"/><ellipse cx="1873.5" cy="586.78" rx="5.20" ry="5.15" fill="#ff0000"/><ellipse cx="1901.1" cy="591.93" rx="5.20" ry="5.15" fill="#ff0000"/><ellipse cx="1928.7" cy="597.66" rx="5.20" ry="5.15" fill="#ff0000"/><ellipse cx="1956.3" cy="595.71" rx="5.20" ry="5.15" fill="#ff0000"/><ellipse cx="1984.0" cy="598.23" rx="5.20" ry="5.15" fill="#ff0000"/><ellipse cx="2011.6" cy="115.41" rx="5.20" ry="5.15" fill="#ff0000"/>
<path clip-path="url(#pc)" d="M105.3,606.02 L132.9,605.97 L160.6,605.93 L188.2,605.89 L215.8,605.84 L243.4,605.80 L271.1,605.76 L298.7,605.71 L326.3,605.67 L353.9,605.27 L381.6,604.87 L409.2,604.41 L436.8,603.95 L464.5,603.58 L492.1,603.21 L519.7,602.84 L547.3,602.46 L575.0,601.84 L602.6,601.21 L630.2,600.46 L657.9,599.72 L685.5,599.26 L713.1,598.80 L740.7,597.66 L768.4,596.51 L796.0,595.54 L823.6,594.56 L851.2,593.70 L878.9,592.85 L906.5,592.10 L934.1,591.36 L961.8,590.21 L989.4,589.07 L1017.0,588.49 L1044.6,587.92 L1072.3,587.12 L1099.9,586.32 L1127.5,585.52 L1155.1,584.71 L1182.8,584.20 L1210.4,583.68 L1238.0,582.97 L1265.7,582.25 L1293.3,581.54 L1320.9,580.82 L1348.5,580.42 L1376.2,580.02 L1403.8,579.62 L1431.4,579.22 L1459.0,578.70 L1486.7,578.19 L1514.3,578.01 L1541.9,577.84 L1569.6,577.67 L1597.2,577.50 L1624.8,577.33 L1652.4,577.16 L1680.1,577.04 L1707.7,576.93 L1735.3,576.81 L1763.0,576.70 L1790.6,576.58 L1818.2,576.63 L1845.8,576.68 L1873.5,576.73 L1901.1,576.78 L1928.7,576.83 L1956.3,576.88 L1984.0,576.93 L2011.6,605.79" stroke="#ff0000" stroke-width="6.4" stroke-dasharray="0 13.67"/>
<path d="M1744.6,176.54 H1801.2" stroke="#ffc000" stroke-width="6.0"/>
<ellipse cx="1771.8" cy="176.54" rx="5.20" ry="5.15" fill="#ffc000"/>
<path d="M1744.7,220.68 H1790.0" stroke="#ffc000" stroke-width="6.4" stroke-dasharray="0 14.63"/>
<path d="M1744.6,263.76 H1801.2" stroke="#002060" stroke-width="6.0"/>
<ellipse cx="1771.8" cy="263.76" rx="5.20" ry="5.15" fill="#44546a"/>
<path d="M1744.7,307.37 H1790.0" stroke="#002060" stroke-width="6.4" stroke-dasharray="0 14.63"/>
<path d="M1744.6,350.90 H1801.2" stroke="#ff0000" stroke-width="6.0"/>
<ellipse cx="1771.8" cy="350.90" rx="5.20" ry="5.15" fill="#ff0000"/>
<path d="M1743.2,394.44 H1801.4" stroke="#ff0000" stroke-width="6.4" stroke-dasharray="0 13.90"/>
</g>
<text class="g" x="1808.9" y="244.1" font-size="28.2" textLength="114.9" lengthAdjust="spacingAndGlyphs">Rend_A04</text>
<text class="g" x="1807.8" y="302.8" font-size="28.2" textLength="113.8" lengthAdjust="spacingAndGlyphs">Simu_A04</text>
<text class="g" x="1808.9" y="360.1" font-size="28.2" textLength="114.9" lengthAdjust="spacingAndGlyphs">Rend_A07</text>
<text class="g" x="1807.8" y="418.1" font-size="28.2" textLength="113.8" lengthAdjust="spacingAndGlyphs">Simu_A07</text>
<text class="g" x="1808.9" y="476.0" font-size="28.2" textLength="114.9" lengthAdjust="spacingAndGlyphs">Rend_A10</text>
<text class="g" x="1807.8" y="533.9" font-size="28.2" textLength="113.8" lengthAdjust="spacingAndGlyphs">Simu_A10</text>
</svg></body></html>
